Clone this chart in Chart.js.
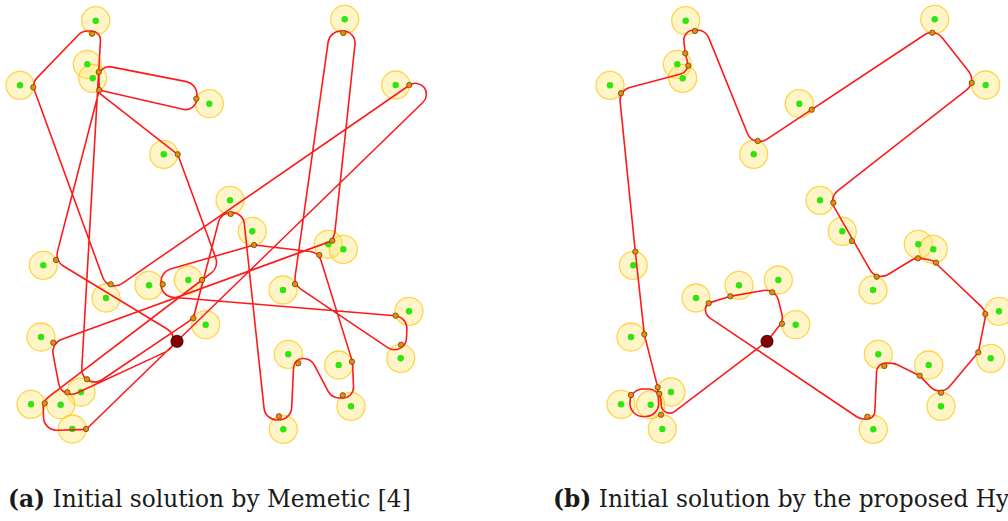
<!DOCTYPE html>
<html>
<head>
<meta charset="utf-8">
<script src="https://cdn.jsdelivr.net/npm/chart.js@4.4.0/dist/chart.umd.min.js"></script>
<style>
  html, body { margin: 0; padding: 0; background: #fff; overflow: hidden; }
  #page { position: relative; width: 1008px; height: 521px; overflow: hidden; }
  canvas { position: absolute; top: 0; }
  #chartA { left: 0; }
  #chartB { left: 590px; }
  .caption {
    position: absolute; top: 485px; white-space: nowrap; color: #1a1a1a;
    font-family: 'DejaVu Serif', serif; font-size: 23.3px;
  }
  #capA { left: 8px; }
  #capB { left: 553px; }
</style>
</head>
<body>
<div id="page">
  <canvas id="chartA" width="440" height="460"></canvas>
  <canvas id="chartB" width="418" height="460"></canvas>
  <div class="caption" id="capA"><b>(a)</b> Initial solution by Memetic [4]</div>
  <div class="caption" id="capB"><b>(b)</b> Initial solution by the proposed Hybrid</div>
</div>
<script>
// customer locations (same instance in both panels, panel-local units)
const customers = [
  [95.7, 20.7], [87.3, 64.3], [92.7, 78.3], [20, 85.3], [209.3, 103.7], [163.7, 154.3],
  [230, 200.3], [344.7, 19.3], [395.7, 85], [252.3, 231.3], [328.3, 244.3], [343.3, 249.3],
  [43.3, 265.3], [149, 285.3], [188.3, 280], [106, 298], [283, 290], [409, 311.3],
  [205.7, 324.7], [41, 337], [400.7, 358.3], [288.3, 354.3], [338.7, 365], [81, 392],
  [31, 404.3], [60.7, 404.7], [351, 406.3], [72.3, 429], [283.3, 429.3]
];
const depot = [177, 341.3];

// visiting points on each neighbourhood boundary
const stopsA = [
  [92, 33.7], [33.3, 87.3], [98.7, 72], [99.3, 90], [196.3, 98.7], [177.7, 154.3],
  [343.3, 33], [409.3, 85], [230.7, 214], [254, 245], [332.3, 240.7], [319.3, 255],
  [56, 260], [110.7, 284.3], [162.7, 284.3], [202, 280], [295, 284], [395.7, 315.7],
  [193.3, 318.3], [53.3, 342.7], [401, 344.7], [298.3, 363.3], [352, 361.7], [87, 379.3],
  [67.3, 392.3], [44.7, 403.3], [342.7, 395.3], [86, 429], [279, 416.3]
];
const stopsB = [
  [105, 31], [95.3, 53.3], [98.3, 65.7], [31, 93.3], [167.7, 141], [221.7, 109.7],
  [342.3, 32.7], [381.7, 83], [243.3, 202.7], [45.3, 251.7], [262, 241], [328, 258.3],
  [346, 262.7], [286.7, 276.7], [118.7, 303.3], [140.3, 296.3], [182.3, 292.3], [192, 323.7],
  [395.3, 314], [54.3, 334.3], [388.3, 352.3], [294.3, 366], [329.7, 375.7], [351, 392.7],
  [67.7, 387.3], [69.3, 393.7], [41, 395], [71, 414.7], [277.3, 416.7]
];

// tour polylines (turn vertices); corners are rounded when stroked
const routeA = [
  [177, 341.3], [430.3, 95.2], [417.7, 79.5], [108.5, 293], [31.8, 83.2], [82.2, 31],
  [101, 31], [80.3, 394.4], [193.3, 318.3], [221, 212.5], [243.1, 212.5], [265.3, 420],
  [291.1, 420], [294, 358.5], [311, 358.5], [331.5, 398], [354, 398], [352.5, 362],
  [318.5, 252.5], [254, 245], [161, 271.8], [161, 296.3], [407.5, 316.8], [405.5, 359.6],
  [294, 284.5], [329.7, 31], [356.4, 31], [334, 240.1], [51, 343.3], [61.8, 400],
  [188, 341.6], [55, 261], [99.3, 90], [98.5, 64.4], [197, 83.7], [197, 112.5],
  [97, 89.5], [99, 93], [177.7, 154.3], [219.1, 267], [202, 280], [43, 401.3],
  [44, 430.5], [86, 429.5], [177, 341.3]
];
const routeB = [
  [177, 341.3], [193.5, 320.5], [185.4, 288.4], [140.3, 296.3], [115.5, 304], [115.5, 315],
  [270, 418.9], [284.5, 419], [287, 362.5], [305, 363.5], [329.7, 375.7], [350.4, 397.4],
  [388.3, 352.3], [396.5, 311.5], [343, 260.5], [326, 257.5], [286.7, 281.4], [238.7, 197.7],
  [386.9, 81.8], [344.6, 28.1], [163.4, 148.2], [115.6, 30], [92.5, 30], [95.3, 53.3],
  [99.8, 71.6], [29, 90.4], [45.3, 251.7], [54.3, 334.3], [67.7, 387.3], [69.5, 416.5],
  [40, 416.5], [40, 389], [70.5, 389], [72, 421], [177, 341.3]
];

const TURN_RADIUS = 13;
const toXY = pts => pts.map(([x, y]) => ({ x, y }));

// strokes the 'route' dataset as straight legs joined by circular turns
const roundedRoute = {
  id: 'roundedRoute',
  afterDatasetDraw(chart, args) {
    if (chart.data.datasets[args.index].label !== 'route') return;
    const pts = args.meta.data.map(p => ({ x: p.x, y: p.y }));
    const ctx = chart.ctx;
    ctx.save();
    ctx.beginPath();
    ctx.moveTo(pts[0].x, pts[0].y);
    for (let i = 1; i < pts.length - 1; i++) {
      const a = pts[i - 1], p = pts[i], b = pts[i + 1];
      const l1 = Math.hypot(a.x - p.x, a.y - p.y);
      const l2 = Math.hypot(b.x - p.x, b.y - p.y);
      const cos = ((a.x - p.x) * (b.x - p.x) + (a.y - p.y) * (b.y - p.y)) / (l1 * l2);
      const half = Math.acos(Math.max(-1, Math.min(1, cos))) / 2;
      const d = Math.min(TURN_RADIUS / Math.tan(half), l1 / 2, l2 / 2);
      ctx.arcTo(p.x, p.y, b.x, b.y, d * Math.tan(half));
    }
    const last = pts[pts.length - 1];
    ctx.lineTo(last.x, last.y);
    ctx.strokeStyle = '#ff1a1a';
    ctx.lineWidth = 1.6;
    ctx.lineJoin = 'round';
    ctx.stroke();
    ctx.restore();
  }
};

function buildPanel(canvasId, width, stops, route) {
  return new Chart(document.getElementById(canvasId), {
    type: 'scatter',
    data: {
      datasets: [
        {
          label: 'depot', data: toXY([depot]), order: 0, clip: false,
          pointRadius: 6, backgroundColor: '#8a0000',
          borderColor: 'rgba(40,0,0,0.75)', borderWidth: 1.2
        },
        {
          label: 'stops', data: toXY(stops), order: 1, clip: false,
          pointRadius: 2.7, backgroundColor: '#f28a00',
          borderColor: 'rgba(70,55,40,0.85)', borderWidth: 0.8
        },
        {
          label: 'route', data: toXY(route), order: 2, clip: false,
          pointRadius: 0, showLine: false
        },
        {
          label: 'customers', data: toXY(customers), order: 3, clip: false,
          pointRadius: 3.2, backgroundColor: '#2ee60f', borderWidth: 0
        },
        {
          label: 'neighbourhoods', data: toXY(customers), order: 4, clip: false,
          pointRadius: 14, backgroundColor: 'rgba(255,228,105,0.36)',
          borderColor: 'rgba(255,200,20,0.75)', borderWidth: 1.3
        }
      ]
    },
    options: {
      responsive: false,
      animation: false,
      events: [],
      layout: { padding: 0, autoPadding: false },
      plugins: { legend: { display: false }, tooltip: { enabled: false } },
      scales: {
        x: { type: 'linear', min: 0, max: width, display: false },
        y: { type: 'linear', min: 0, max: 460, reverse: true, display: false }
      }
    },
    plugins: [roundedRoute]
  });
}

buildPanel('chartA', 440, stopsA, routeA);
buildPanel('chartB', 418, stopsB, routeB);
</script>
</body>
</html>
